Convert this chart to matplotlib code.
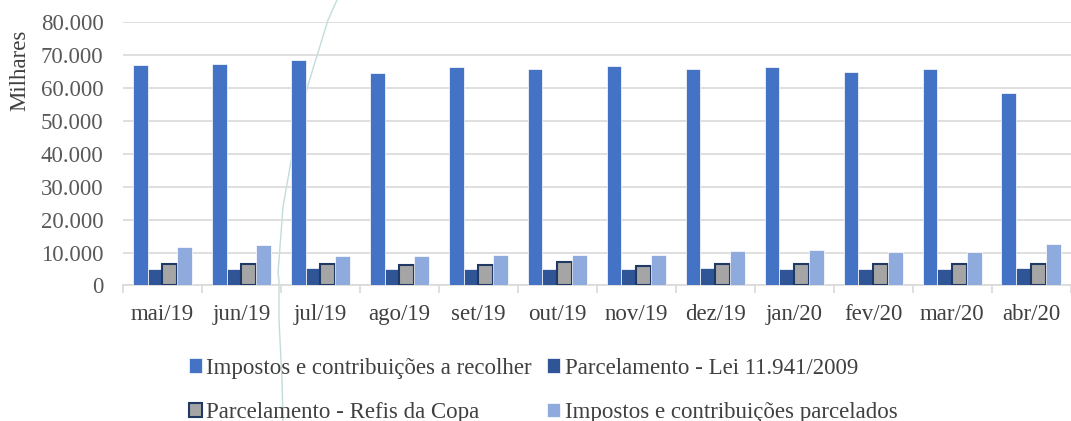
import matplotlib.pyplot as plt
import numpy as np
from matplotlib.lines import Line2D

# valores em milhares (R$ mil)
meses = ["mai/19", "jun/19", "jul/19", "ago/19", "set/19", "out/19",
         "nov/19", "dez/19", "jan/20", "fev/20", "mar/20", "abr/20"]
a_recolher = [66800, 67100, 68400, 64500, 66300, 65800,
              66500, 65800, 66400, 64700, 65500, 58400]
lei_11941 = [5000, 5000, 5400, 5000, 5000, 5000,
             5000, 5200, 5000, 5000, 5000, 5400]
refis_copa = [6400, 6400, 6400, 6300, 6300, 7000,
              5800, 6400, 6400, 6400, 6400, 6400]
parcelados = [11600, 12300, 8800, 9000, 9200, 9200,
              9200, 10400, 10700, 10300, 10300, 12600]

nomes = ["Impostos e contribuições a recolher", "Parcelamento - Lei 11.941/2009",
         "Parcelamento - Refis da Copa", "Impostos e contribuições parcelados"]

plt.rcParams['font.family'] = ['Liberation Serif', 'DejaVu Serif']
fs = 16.5

fig = plt.figure(figsize=(10.71, 4.21), dpi=100)
ax = fig.add_axes([0.1148, 0.3219, 0.8848, 0.6266])
ax.set_facecolor('none')

x = np.arange(len(meses))
w = 0.1875
series = [a_recolher, lei_11941, refis_copa, parcelados]
cores = ["#4472C4", "#2F5597", "#A5A5A5", "#8FAADC"]
bordas = ["white", "white", "#1F3864", "white"]
lws = [0.5, 0.5, 1.5, 0.5]
barras = []
for i, (vals, cor, bd, lw) in enumerate(zip(series, cores, bordas, lws)):
    b = ax.bar(x + (i - 1.5) * w, vals, width=w, color=cor, edgecolor=bd,
               linewidth=lw, label=nomes[i], zorder=3)
    barras.append(b)

ax.set_ylim(0, 80000)
ax.set_xlim(-0.5, len(meses) - 0.5)
ax.set_yticks(range(0, 80001, 10000))
ax.set_yticklabels(["0" if v == 0 else f"{v // 1000}.000" for v in range(0, 80001, 10000)])
ax.yaxis.grid(True, color="#D9D9D9", linewidth=1.2, zorder=0)
ax.tick_params(axis='y', length=0, labelsize=fs, labelcolor="#595959", pad=14)

ax.set_xticks(x)
ax.set_xticklabels(meses)
ax.set_xticks(np.arange(-0.5, len(meses)), minor=True)
ax.tick_params(axis='x', which='major', length=0, labelsize=fs, labelcolor="#404040", pad=13)
ax.tick_params(axis='x', which='minor', length=6, color="#D9D9D9", width=1.2)

for s in ["top", "right", "left"]:
    ax.spines[s].set_visible(False)
ax.spines["bottom"].set_color("#D9D9D9")
ax.spines["bottom"].set_linewidth(1.2)

ax.set_ylabel("Milhares", fontsize=fs, color="#404040")
ax.yaxis.set_label_coords(-0.098, 0.815)

# legenda em duas linhas (ordem por linha)
ordem = [0, 2, 1, 3]
leg = fig.legend([barras[i] for i in ordem], [nomes[i] for i in ordem],
                 ncol=2, loc='center', bbox_to_anchor=(0.507, 0.073),
                 frameon=False, fontsize=fs, labelcolor="#404040",
                 handlelength=0.57, handleheight=0.57, handletextpad=0.2,
                 columnspacing=0.65, labelspacing=1.02)

# traço decorativo de fundo
cx = [337, 328, 308, 293, 283, 278, 279, 279, 282, 283]
cy = [0, 20, 85, 150, 207, 273, 280, 320, 380, 421]
fig.add_artist(Line2D([v / 1071 for v in cx], [1 - v / 421 for v in cy],
                      transform=fig.transFigure, color="#C2DCDC",
                      linewidth=1.0, zorder=-1))

fig.savefig("out.png", dpi=100)
